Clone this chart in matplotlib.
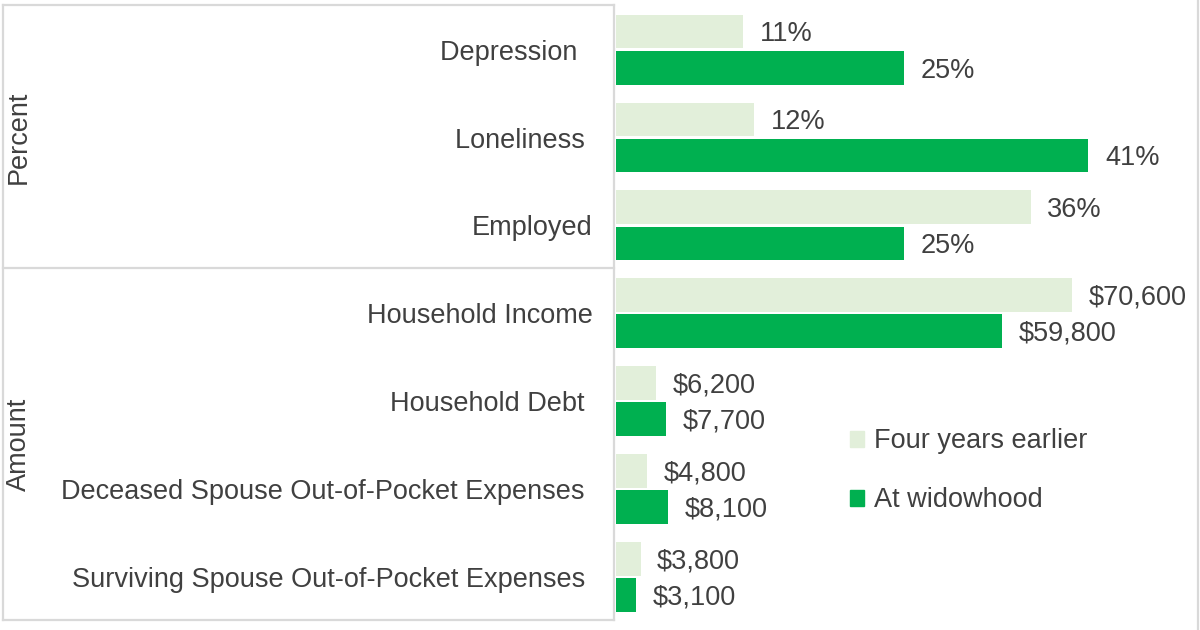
import numpy as np
import matplotlib
matplotlib.use('Agg')
import matplotlib.pyplot as plt
from matplotlib.lines import Line2D
from matplotlib.patches import Patch

# data
pct_cats = ['Depression  ', 'Loneliness ', 'Employed']
pct_before = [11, 12, 36]
pct_widow = [25, 41, 25]

amt_cats = ['Household Income', 'Household Debt ',
            'Deceased Spouse Out-of-Pocket Expenses ',
            'Surviving Spouse Out-of-Pocket Expenses ']
amt_before = [70600, 6200, 4800, 3800]
amt_widow = [59800, 7700, 8100, 3100]

series = ['Four years earlier', 'At widowhood']
groups = ['Percent', 'Amount']

light = '#E2EFDA'
dark = '#00B050'
txt = '#404040'
grid = '#D9D9D9'
fs = 19.5

plt.rcParams['font.family'] = ['Liberation Sans', 'DejaVu Sans']

W, H = 1200, 630
fig = plt.figure(figsize=(12, 6.3), dpi=100)


def fx(x):
    return x / W


def fy(y):
    return 1 - y / H


ax1 = fig.add_axes([fx(616), fy(269), fx(584), (269 - 6) / H])
ax2 = fig.add_axes([fx(616), fy(621), fx(584), (621 - 269) / H])

off = 0.207
hgt = 0.38


def draw(ax, cats, before, widow, xmax, fmt):
    y = np.arange(len(cats))
    b1 = ax.barh(y - off, before, height=hgt, color=light, label=series[0])
    b2 = ax.barh(y + off, widow, height=hgt, color=dark, label=series[1])
    for bars, vals in ((b1, before), (b2, widow)):
        for b, v in zip(bars, vals):
            ax.annotate(fmt(v), (b.get_width(), b.get_y() + b.get_height() / 2),
                        xytext=(12, -2), textcoords='offset points',
                        va='center', ha='left', fontsize=fs, color=txt)
    ax.set_xlim(0, xmax)
    ax.set_ylim(len(cats) - 0.5, -0.5)
    ax.set_yticks(y)
    ax.set_yticklabels(cats, fontsize=fs, color=txt)
    ax.tick_params(axis='y', length=0, pad=17)
    ax.set_xticks([])
    for s in ax.spines.values():
        s.set_visible(False)
    ax.patch.set_alpha(0)


draw(ax1, pct_cats, pct_before, pct_widow, 584 / 11.52, lambda v: f'{v}%')
draw(ax2, amt_cats, amt_before, amt_widow, 584 / 6.46 * 1000, lambda v: f'${v:,}')

# table borders on the left
lines = [((3, 5), (614, 5)), ((3, 620), (614, 620)), ((3, 5), (3, 620)),
         ((614, 5), (614, 620)), ((3, 268), (614, 268)), ((1198, 0), (1198, 630))]
for (x0, y0), (x1, y1) in lines:
    fig.add_artist(Line2D([fx(x0), fx(x1)], [fy(y0), fy(y1)], color=grid, lw=1.6,
                          transform=fig.transFigure))

fig.text(fx(19), fy(137), groups[0], rotation=90, ha='center', va='center',
         fontsize=fs, color=txt)
fig.text(fx(19), fy(444), groups[1], rotation=90, ha='center', va='center',
         fontsize=fs, color=txt)

handles = [Patch(color=light), Patch(color=dark)]
fig.legend(handles, series, loc='upper left', bbox_to_anchor=(fx(826), fy(404)),
           frameon=False, fontsize=fs, labelcolor=txt, handlelength=0.52,
           handleheight=0.52, handletextpad=0.35, labelspacing=1.22)

fig.savefig('out.png', dpi=100, facecolor='white')
